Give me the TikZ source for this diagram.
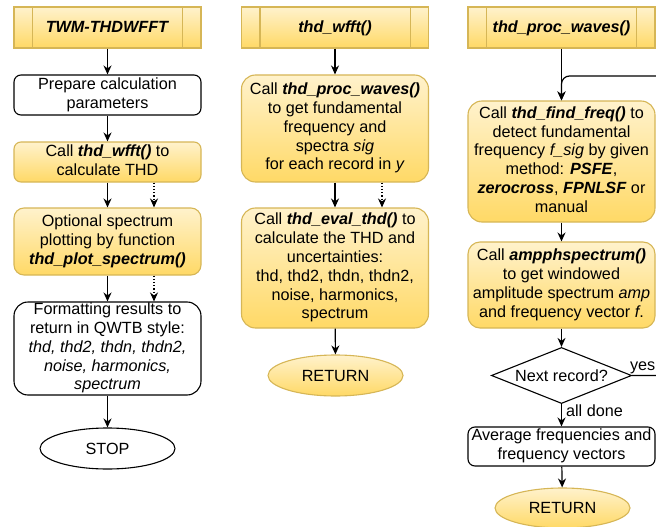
\documentclass[tikz,border=0pt]{standalone}
\usepackage{fontspec}
\setmainfont{Liberation Sans}
\usetikzlibrary{shapes.geometric,arrows.meta,calc}
\definecolor{ylfill}{HTML}{FFF2CC}
\definecolor{ylgrad}{HTML}{FFD966}
\definecolor{ylline}{HTML}{D6B656}
\newcommand{\fn}[1]{\textbf{\textit{#1}}}

\begin{document}
\begin{tikzpicture}[x=1pt,y=-1pt,
  base/.style={font=\fontsize{16.2}{18.8}\selectfont, align=center, inner sep=0pt, line width=1.1pt,
    execute at begin node={\rule{0pt}{15pt}}, execute at end node={\rule[-4pt]{0pt}{0pt}}},
  yellowfill/.style={draw=ylline, top color=ylfill, bottom color=ylgrad},
  plainbox/.style={base, rectangle, draw=black, fill=white, minimum width=187pt},
  ybox/.style={base, rectangle, yellowfill, minimum width=187pt},
  header/.style={base, rectangle, yellowfill, minimum width=187pt, minimum height=41pt},
  term/.style={base, ellipse, minimum width=135pt, minimum height=41pt},
  decision/.style={base, diamond, draw=black, fill=white, aspect=2.5, minimum width=133pt, minimum height=53pt},
  flow/.style={-{Stealth[length=9pt,width=8pt]}, line width=1.2pt},
  dotflow/.style={flow, dotted},
  lbl/.style={font=\fontsize{16.2}{18.8}\selectfont, inner sep=0pt}
]
\useasboundingbox (0,0) rectangle (656,527);

% ---- main script column ----
\node[header] (h1) at (107.5,27.5) {\fn{TWM-THDWFFT}};
\node[plainbox, minimum height=40pt, rounded corners=7pt] (n1) at (107.5,95) {Prepare calculation\\parameters};
\node[ybox, minimum height=40pt, rounded corners=7pt] (n2) at (107.5,162) {Call \fn{thd\_wfft()} to\\calculate THD};
\node[ybox, minimum height=67pt, rounded corners=10pt] (n3) at (107.5,241.5) {Optional spectrum\\plotting by function\\\fn{thd\_plot\_spectrum()}};
\node[plainbox, minimum height=93pt, rounded corners=14pt] (n4) at (107.5,348.5) {Formatting results to\\return in QWTB style:\\\textit{thd, thd2, thdn, thdn2,}\\\textit{noise, harmonics,}\\\textit{spectrum}};
\node[term, draw=black, fill=white] (stop) at (107.5,448.5) {STOP};

% ---- thd_wfft column ----
\node[header] (h2) at (335,27.5) {\fn{thd\_wfft()}};
\node[ybox, minimum height=107pt, rounded corners=14pt] (m1) at (335,128.5) {Call \fn{thd\_proc\_waves()}\\to get fundamental\\frequency and\\spectra \textit{sig}\\for each record in \textit{y}};
\node[ybox, minimum height=120pt, rounded corners=14pt] (m2) at (335,268) {Call \fn{thd\_eval\_thd()} to\\calculate the THD and\\uncertainties:\\thd, thd2, thdn, thdn2,\\noise, harmonics,\\spectrum};
\node[term, yellowfill] (ret1) at (335.5,375.5) {RETURN};

% ---- thd_proc_waves column ----
\node[header] (h3) at (561.5,27.5) {\fn{thd\_proc\_waves()}};
\node[ybox, minimum height=121pt, rounded corners=14pt] (k1) at (561.5,161.5) {Call \fn{thd\_find\_freq()} to\\detect fundamental\\frequency \textit{f\_sig} by given\\method: \fn{PSFE},\\\fn{zerocross}, \fn{FPNLSF} or\\manual};
\node[ybox, minimum height=86pt, rounded corners=12pt] (k2) at (561.5,285) {Call \fn{ampphspectrum()}\\to get windowed\\amplitude spectrum \textit{amp}\\and frequency vector \textit{f}.};
\node[decision] (dia) at (561.5,375.5) {Next record?};
\node[plainbox, minimum height=39pt, rounded corners=7pt] (k3) at (561.5,446.5) {Average frequencies and\\frequency vectors};
\node[term, yellowfill, minimum height=40pt] (ret2) at (562.5,508) {RETURN};

% inner bars of the subroutine headers
\foreach \h in {h1,h2,h3}{
  \draw[ylline, line width=1.1pt] ([xshift=19pt]\h.north west) -- ([xshift=19pt]\h.south west);
  \draw[ylline, line width=1.1pt] ([xshift=-19pt]\h.north east) -- ([xshift=-19pt]\h.south east);
}

% ---- connectors ----
\draw[flow] (h1) -- (n1);
\draw[flow] (n1) -- (n2);
\draw[flow] (n2) -- (n3);
\draw[dotflow] ([xshift=46.5pt]n2.south) -- ([xshift=46.5pt]n3.north);
\draw[flow] (n3) -- (n4);
\draw[dotflow] ([xshift=46.5pt]n3.south) -- ([xshift=46.5pt]n4.north);
\draw[flow] (n4) -- (stop);

\draw[flow] (h2) -- (m1);
\draw[flow] (m1) -- (m2);
\draw[dotflow] ([xshift=47pt]m1.south) -- ([xshift=47pt]m2.north);
\draw[flow] (m2) -- (ret1);

\draw[flow] (h3) -- (k1);
\draw[flow] (k1) -- (k2);
\draw[flow] (k2) -- (dia);
\draw[flow] (dia) -- node[lbl, anchor=west, xshift=4pt, pos=0.3] {all done} (k3);
\draw[flow] (k3) -- (ret2);

% loop back for the next record
\coordinate (loopx) at (672,0);
\coordinate (looptop) at (0,76);
\draw[flow, rounded corners=8pt] (dia.east) -- (dia.east -| loopx) -- (loopx |- looptop) -| (k1.north);
\node[lbl, anchor=south east] (yes) at ($(dia.east -| loopx)+(-16.5,-1.5)$) {yes};
\end{tikzpicture}
\end{document}
